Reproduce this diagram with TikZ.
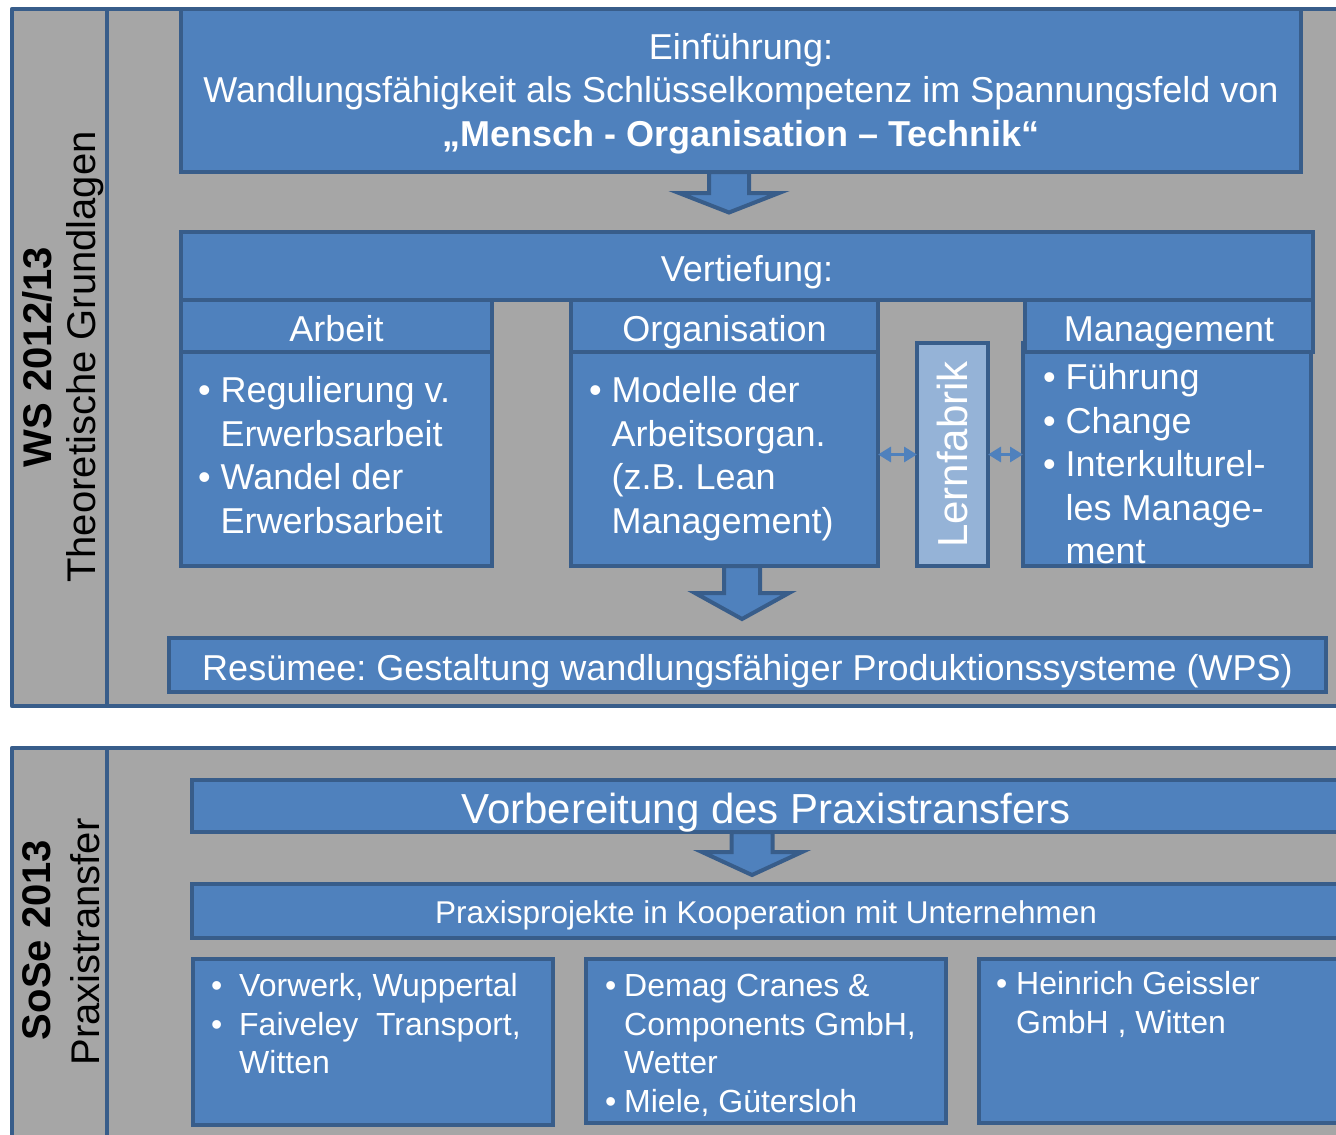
\documentclass[tikz,border=0pt]{standalone}
\usepackage{fontspec}
\setmainfont{Liberation Sans}
\usetikzlibrary{calc,arrows.meta}

\definecolor{boxblue}{HTML}{4F81BD}
\definecolor{edgeblue}{HTML}{385D8A}
\definecolor{panelgray}{HTML}{A6A6A6}
\definecolor{lernblue}{HTML}{95B3D7}

\newcommand{\fsmain}{\fontsize{36}{43.4}\selectfont}
\newcommand{\fssmall}{\fontsize{32}{38.4}\selectfont}
\newcommand{\fsprax}{\fontsize{31.5}{38}\selectfont}
\newcommand{\fsvorb}{\fontsize{42}{50}\selectfont}
\newcommand{\fslabel}{\fontsize{40}{48}\selectfont}
\newcommand{\fslern}{\fontsize{42}{50}\selectfont}

% block arrow: start, shaft half width, head half width, head start, tip
\newcommand{\blkarrow}[5]{%
  \draw[bigarrow] ($(#1)+(-#2,0)$) -- ++(0,#4) -- ++(#2-#3,0) -- ++(#3,#5-#4)
    -- ++(#3,#4-#5) -- ++(#2-#3,0) -- ++(0,-#4) -- cycle;}

\tikzset{
  blk/.style={draw=edgeblue, fill=boxblue, line width=4.5pt, text=white,
    inner sep=0pt, outer sep=0pt, anchor=north west, font=\fsmain},
  oneline/.style={text height=#1, text depth=0pt},
  panel/.style={draw=edgeblue, fill=panelgray, line width=4.5pt, line join=round},
  divider/.style={draw=edgeblue, line width=4.5pt},
  bigarrow/.style={draw=edgeblue, fill=boxblue, line width=4pt, line join=miter},
  dblarrow/.style={draw=boxblue, line width=3pt,
    {Triangle[length=13pt,width=15pt]}-{Triangle[length=13pt,width=15pt]}},
  bodytxt/.style={text=white, anchor=north west, inner sep=0pt, outer sep=0pt, align=left},
  sidelabel/.style={rotate=90, inner sep=0pt, font=\fslabel}
}

\begin{document}
\frenchspacing
\begin{tikzpicture}[x=1pt,y=-1pt]
  \useasboundingbox (0,0) rectangle (1336,1135);

  % panels
  \draw[panel] (12,9) rectangle (1400,706);
  \draw[divider] (107,9) -- (107,706);
  \draw[panel] (12,748) rectangle (1400,1200);
  \draw[divider] (107,748) -- (107,1200);

  % side labels
  \node[sidelabel] (wslab) at (37,357) {\textbf{WS 2012/13}};
  \node[sidelabel] (theolab) at (85,357) {Theoretische Grundlagen};
  \node[sidelabel] (soselab) at (37,940) {\textbf{SoSe 2013}};
  \node[sidelabel] (praxlab) at (85,942) {Praxistransfer};

  % upper part
  \node[blk, minimum width=1120pt, minimum height=163pt, align=center] (intro) at (181,9)
    {\rule{0pt}{32pt}Einführung:\\Wandlungsfähigkeit als Schlüsselkompetenz im Spannungsfeld von\\
     \textbf{„Mensch - Organisation – Technik“}};
  \node[blk, oneline=30pt, minimum width=1132pt, minimum height=68pt] (vert) at (181,232) {Vertiefung:};

  \node[blk, oneline=30pt, minimum width=311pt, minimum height=52pt] (arbeitH) at (181,300) {Arbeit};
  \node[blk, minimum width=311pt, minimum height=214pt] (arbeitB) at (181,352) {};
  \node[blk, oneline=30pt, minimum width=307pt, minimum height=52pt] (orgH) at (571,300) {Organisation};
  \node[blk, minimum width=307pt, minimum height=214pt] (orgB) at (571,352) {};
  \node[blk, fill=lernblue, minimum width=71pt, minimum height=223pt] (lern) at (917,343) {};
  \node[rotate=90, text=white, inner sep=0pt, font=\fslern] (lerntxt) at (lern.center) {Lernfabrik};
  \node[blk, minimum width=288pt, minimum height=223pt] (mgmtB) at (1023,343) {};
  \node[blk, oneline=30pt, minimum width=288pt, minimum height=52pt] (mgmtH) at (1025,300) {Management};

  \node[bodytxt, font=\fsmain] (arbeitT) at ($(arbeitB.north west)+(17,20.5)$)
    {\begin{tabular}{@{}l@{\hspace{10pt}}l@{}}
     • & Regulierung v.\\ & Erwerbsarbeit\\ • & Wandel der\\ & Erwerbsarbeit
     \end{tabular}};
  \node[bodytxt, font=\fsmain] (orgT) at ($(orgB.north west)+(18,20.5)$)
    {\begin{tabular}{@{}l@{\hspace{10pt}}l@{}}
     • & Modelle der\\ & Arbeitsorgan.\\ & (z.B. Lean\\ & Management)
     \end{tabular}};
  \node[bodytxt, font=\fsmain] (mgmtT) at ($(mgmtB.north west)+(20,16.5)$)
    {\begin{tabular}{@{}l@{\hspace{10pt}}l@{}}
     • & Führung\\ • & Change\\ • & Interkulturel-\\ & les Manage-\\ & ment
     \end{tabular}};

  \node[blk, oneline=30pt, minimum width=1157pt, minimum height=54pt] (resume) at (169,638)
    {Resümee: Gestaltung wandlungsfähiger Produktionssysteme (WPS)};

  \draw[dblarrow] (orgB.east |- lern.west) -- (lern.west);
  \draw[dblarrow] (lern.east) -- (mgmtB.west |- lern.east);

  \coordinate (a1) at ([xshift=-12pt]intro.south);
  \blkarrow{a1}{20}{50}{21}{40.5}
  \coordinate (a2) at ([xshift=17.5pt]orgB.south);
  \blkarrow{a2}{18}{47}{27}{53}

  % lower part
  \node[blk, oneline=34pt, font=\fsvorb, minimum width=1148pt, minimum height=52pt] (vorb) at (192,780)
    {Vorbereitung des Praxistransfers};
  \node[blk, oneline=24.5pt, font=\fsprax, minimum width=1148pt, minimum height=54pt] (praxis) at (192,884)
    {Praxisprojekte in Kooperation mit Unternehmen};
  \coordinate (a3) at ([xshift=-14pt]vorb.south);
  \blkarrow{a3}{20.5}{50}{20}{43}

  \node[blk, minimum width=360pt, minimum height=166pt] (firm1) at (193,959) {};
  \node[blk, minimum width=360pt, minimum height=164pt] (firm2) at (586,959) {};
  \node[blk, minimum width=360pt, minimum height=164pt] (firm3) at (979,959) {};

  \node[bodytxt, font=\fssmall] (firm1T) at ($(firm1.north west)+(18,11)$)
    {\begin{tabular}{@{}l@{\hspace{17pt}}l@{}}
     • & Vorwerk, Wuppertal\\ • & Faiveley\ \ Transport,\\ & Witten
     \end{tabular}};
  \node[bodytxt, font=\fssmall] (firm2T) at ($(firm2.north west)+(19,11)$)
    {\begin{tabular}{@{}l@{\hspace{8pt}}l@{}}
     • & Demag Cranes \&\\ & Components GmbH,\\ & Wetter\\ • & Miele, Gütersloh
     \end{tabular}};
  \node[bodytxt, font=\fssmall] (firm3T) at ($(firm3.north west)+(17,9)$)
    {\begin{tabular}{@{}l@{\hspace{9pt}}l@{}}
     • & Heinrich Geissler\\ & GmbH , Witten
     \end{tabular}};
\end{tikzpicture}
\end{document}
